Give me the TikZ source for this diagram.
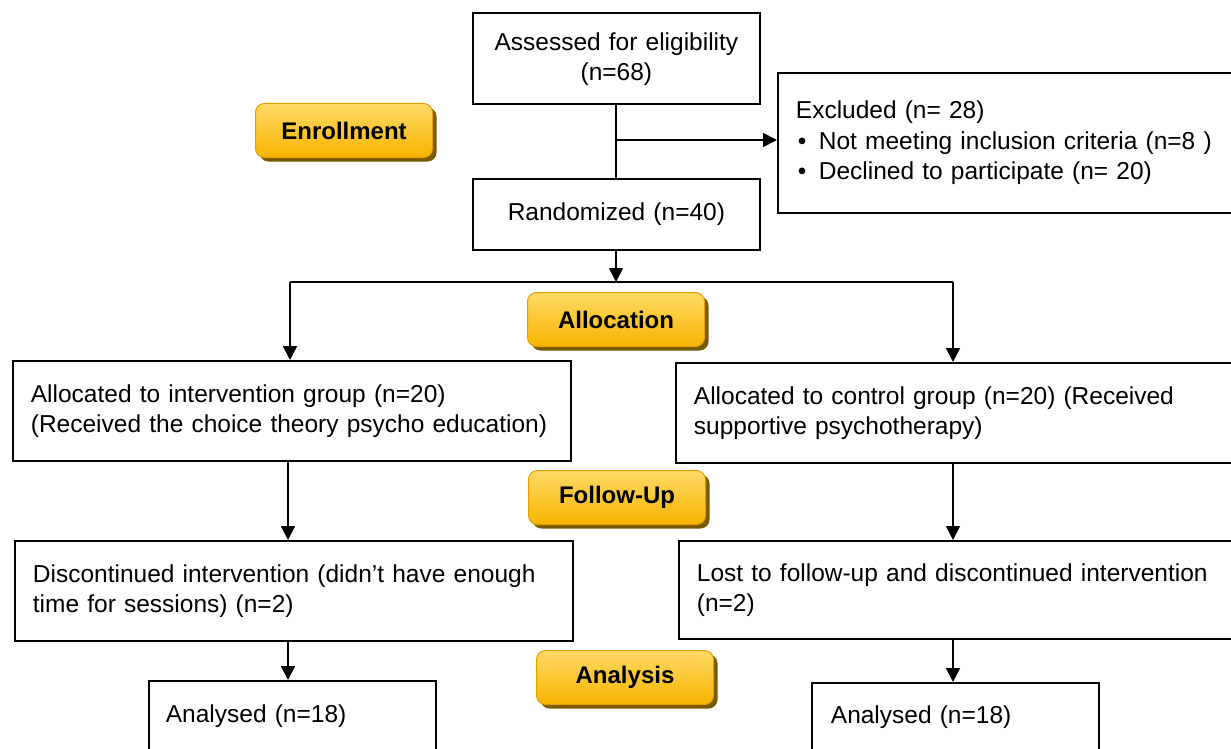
\documentclass[tikz,border=0pt]{standalone}
\usepackage{fontspec}
\setmainfont{Liberation Sans}
\usetikzlibrary{arrows.meta,shadows,calc}
\definecolor{labtop}{HTML}{FFDA66}
\definecolor{labbot}{HTML}{F7B400}
\definecolor{labline}{HTML}{E39F00}
\definecolor{labshadow}{HTML}{7A5A00}
\begin{document}
\begin{tikzpicture}[x=1pt,y=-1pt,
  box/.style={draw, line width=1.8pt, anchor=north west, inner xsep=18pt, inner ysep=0pt,
    font=\fontsize{24.5}{30}\selectfont},
  phase/.style={rounded corners=9pt, draw=labline, line width=1pt, top color=labtop, bottom color=labbot,
    drop shadow={shadow xshift=4pt, shadow yshift=-4pt, fill=labshadow, opacity=1},
    minimum width=177pt, minimum height=54pt, anchor=north west, inner sep=0pt,
    font=\fontsize{24}{28}\selectfont\bfseries},
  arr/.style={line width=1.8pt, -{Triangle[length=14pt,width=14pt]}},
  ln/.style={line width=1.8pt}]
\clip (0,0) rectangle (1231,749);
\fill[white] (0,0) rectangle (1231,749);

% boxes
\node[box, minimum width=287pt, minimum height=91pt, text width=251pt, align=center] (assess) at (472,12)
  {\rule{0pt}{20pt}Assessed for eligibility\\(n=68)};
\node[box, minimum width=480pt, minimum height=140pt, text width=444pt, align=left] (excl) at (777,72)
  {Excluded (n= 28)\\[1pt]
   \hspace*{2pt}\makebox[21pt][l]{•}Not meeting inclusion criteria (n=8 )\\
   \hspace*{2pt}\makebox[21pt][l]{•}Declined to participate (n= 20)};
\node[box, minimum width=287pt, minimum height=71pt, text width=251pt, align=center] (rand) at (472,178)
  {Randomized (n=40)};
\node[box, minimum width=558pt, minimum height=100pt, text width=522pt, align=left] (interv) at (12,360)
  {Allocated to intervention group (n=20)\\(Received the choice theory psycho education)};
\node[box, minimum width=580pt, minimum height=100pt, text width=544pt, align=left] (control) at (675,362)
  {Allocated to control group (n=20) (Received\\supportive psychotherapy)};
\node[box, minimum width=558pt, minimum height=100pt, text width=522pt, align=left] (disc) at (14,540)
  {Discontinued intervention (didn’t have enough\\time for sessions) (n=2)};
\node[box, minimum width=580pt, minimum height=98pt, text width=544pt, align=left] (lost) at (678,540)
  {Lost to follow-up and discontinued intervention\\(n=2)};
\node[box, minimum width=287pt, minimum height=70pt, text width=253pt, inner xsep=17pt, align=left] (anaL) at (148,680)
  {Analysed (n=18)};
\node[box, minimum width=287pt, minimum height=68pt, text width=249pt, inner xsep=19pt, align=left] (anaR) at (811,682)
  {Analysed (n=18)};

% phase labels
\node[phase] (enr) at (255,103) {Enrollment};
\node[phase] (alloc) at (527,292) {Allocation};
\node[phase] (fu) at (528,470) {Follow-Up};
\node[phase] (an) at (536,650) {Analysis};

% connectors
\coordinate (mcol) at (616,0);
\draw[ln] (assess.south -| mcol) -- (rand.north -| mcol);
\coordinate (exj) at (616,140);
\draw[arr] (exj) -- (exj -| excl.west);
\coordinate (split) at (616,282);
\coordinate (lsplit) at (290,282);
\coordinate (rsplit) at (953,282);
\draw[arr] (rand.south -| mcol) -- (split);
\draw[ln] (lsplit) -- (rsplit);
\draw[arr] (lsplit) -- (lsplit |- interv.north);
\draw[arr] (rsplit) -- (rsplit |- control.north);
\coordinate (lcol) at (288,0);
\draw[arr] (interv.south -| lcol) -- (disc.north -| lcol);
\draw[arr] (control.south -| rsplit) -- (lost.north -| rsplit);
\draw[arr] (disc.south -| lcol) -- (anaL.north -| lcol);
\draw[arr] (lost.south -| rsplit) -- (anaR.north -| rsplit);
\end{tikzpicture}
\end{document}
